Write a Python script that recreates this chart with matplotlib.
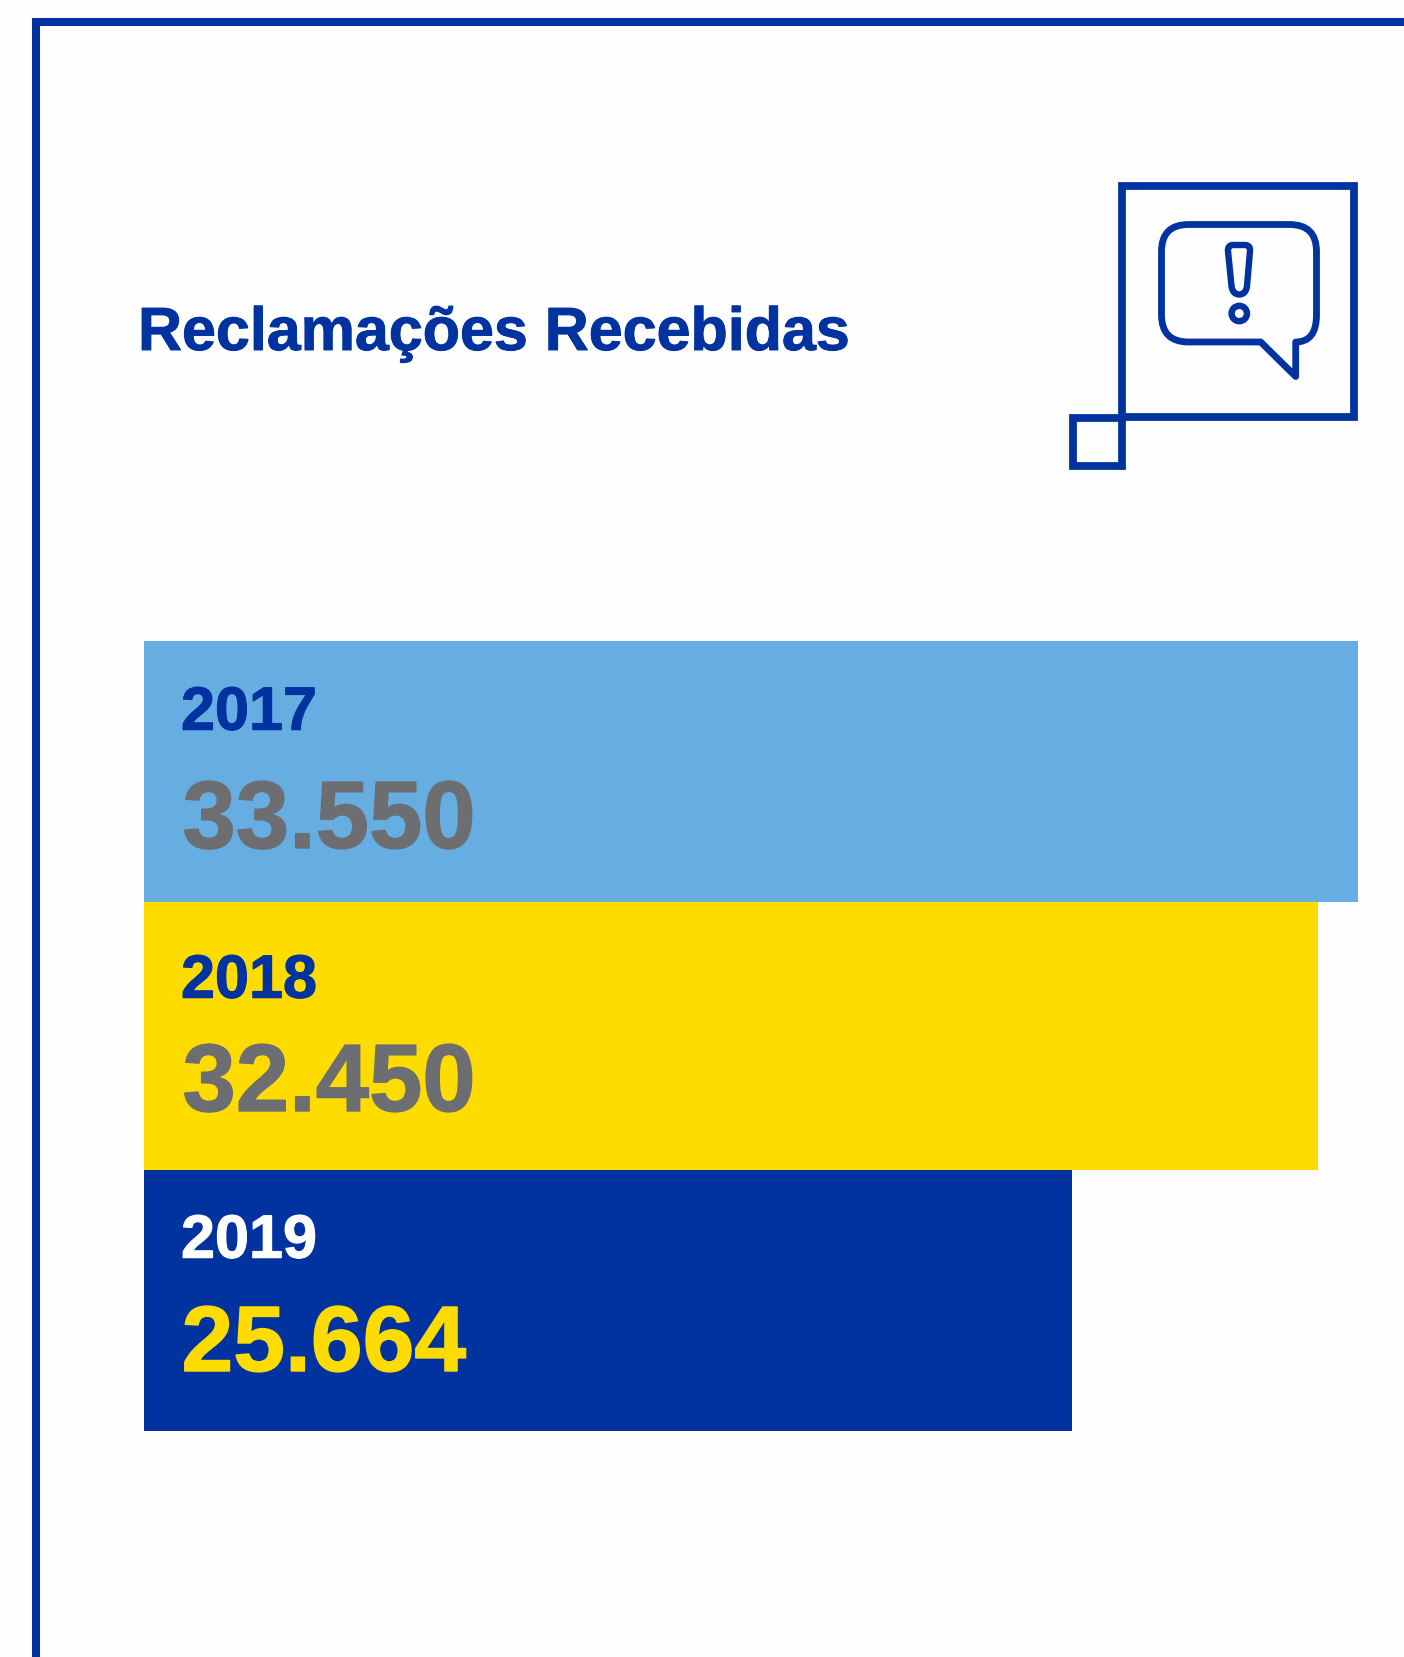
import matplotlib
matplotlib.use('Agg')
import matplotlib.pyplot as plt
import matplotlib.patheffects as pe
from matplotlib.patches import PathPatch, Rectangle, Circle
from matplotlib.path import Path

anos = ['2017', '2018', '2019']
reclamacoes = [33550, 32450, 25664]
rotulos = ['33.550', '32.450', '25.664']

AZUL = '#0033A0'
CEU = '#66AEE2'
AMARELO = '#FFDC00'
CINZA = '#6D6E71'
FONTE = 'Liberation Sans'

W, H = 1404, 1658
fig = plt.figure(figsize=(W / 100, H / 100), dpi=100, facecolor='#FEFEFE')

# camada de fundo em pixels, para a moldura
bg = fig.add_axes([0, 0, 1, 1])
bg.set_xlim(0, W)
bg.set_ylim(H, 0)
bg.axis('off')

# moldura aberta a direita e embaixo
bg.plot([36, 36, W + 5], [H + 5, 22.5, 22.5], color=AZUL, lw=5.8, solid_joinstyle='miter')

# barras
bordas = [642, 903, 1171, 1431.5]
ax = fig.add_axes([144 / W, (H - bordas[-1]) / H, 1213.5 / W, (bordas[-1] - bordas[0]) / H])
ax.set_xlim(0, max(reclamacoes))
ax.set_ylim(bordas[-1], bordas[0])
ax.axis('off')
for i, (v, c) in enumerate(zip(reclamacoes, [CEU, AMARELO, AZUL])):
    ax.barh((bordas[i] + bordas[i + 1]) / 2, v, height=bordas[i + 1] - bordas[i], color=c, linewidth=0)

# textos por cima das barras
top = fig.add_axes([0, 0, 1, 1])
top.set_xlim(0, W)
top.set_ylim(H, 0)
top.axis('off')
top.patch.set_alpha(0)


def negrito(x, y, s, cor, tam, traco):
    # a fonte do original e mais pesada, um traco fino compensa
    t = top.text(x, y, s, color=cor, fontsize=tam, fontweight='bold', family=FONTE, va='baseline')
    t.set_path_effects([pe.withStroke(linewidth=traco, foreground=cor)])


negrito(138, 351, 'Reclamações Recebidas', AZUL, 43.9, 0.7)

base_ano = [730.7, 998.7, 1258.7]
base_val = [849, 1112, 1372]
cor_ano = [AZUL, AZUL, 'white']
cor_val = [CINZA, CINZA, AMARELO]
tam_val = [69, 69, 67]
x_val = [182.5, 182.5, 181.5]
for i in range(3):
    negrito(181, base_ano[i], anos[i], cor_ano[i], 44, 0.8)
    negrito(x_val[i], base_val[i], rotulos[i], cor_val[i], tam_val[i], 1.0)

# icone
top.add_patch(Rectangle((1122, 186.5), 231.5, 231.5, fill=False, ec=AZUL, lw=5.6, joinstyle='miter'))
top.add_patch(Rectangle((1073, 418.5), 49, 48, fill=False, ec=AZUL, lw=5.6, joinstyle='miter'))

x0, x1, y0, y1, r = 1161.5, 1316.5, 225.5, 343, 27
balao = [
    (Path.MOVETO, (x0 + r, y0)), (Path.LINETO, (x1 - r, y0)),
    (Path.CURVE3, (x1, y0)), (Path.CURVE3, (x1, y0 + r)),
    (Path.LINETO, (x1, y1 - r)),
    (Path.CURVE3, (x1, y1)), (Path.CURVE3, (1295.7, y1)),
    (Path.LINETO, (1295.7, 377.5)), (Path.LINETO, (1260.7, y1)),
    (Path.LINETO, (x0 + r, y1)),
    (Path.CURVE3, (x0, y1)), (Path.CURVE3, (x0, y1 - r)),
    (Path.LINETO, (x0, y0 + r)),
    (Path.CURVE3, (x0, y0)), (Path.CURVE3, (x0 + r, y0)),
    (Path.CLOSEPOLY, (x0 + r, y0)),
]
top.add_patch(PathPatch(Path([p for _, p in balao], [c for c, _ in balao]), fill=False,
                        ec=AZUL, lw=4.9, joinstyle='round'))

excl = [
    (Path.MOVETO, (1233, 246)), (Path.LINETO, (1245, 246)),
    (Path.CURVE3, (1250.5, 246)), (Path.CURVE3, (1250, 252)),
    (Path.LINETO, (1247, 287)),
    (Path.CURVE3, (1246, 295.5)), (Path.CURVE3, (1239.3, 295.5)),
    (Path.CURVE3, (1232.5, 295.5)), (Path.CURVE3, (1231.5, 287)),
    (Path.LINETO, (1228, 252)),
    (Path.CURVE3, (1227.5, 246)), (Path.CURVE3, (1233, 246)),
    (Path.CLOSEPOLY, (1233, 246)),
]
top.add_patch(PathPatch(Path([p for _, p in excl], [c for c, _ in excl]), fill=False,
                        ec=AZUL, lw=4.6, joinstyle='round'))
top.add_patch(Circle((1239.3, 314.5), 7.7, fill=False, ec=AZUL, lw=4.6))

fig.savefig('out.png', dpi=100, facecolor=fig.get_facecolor())
